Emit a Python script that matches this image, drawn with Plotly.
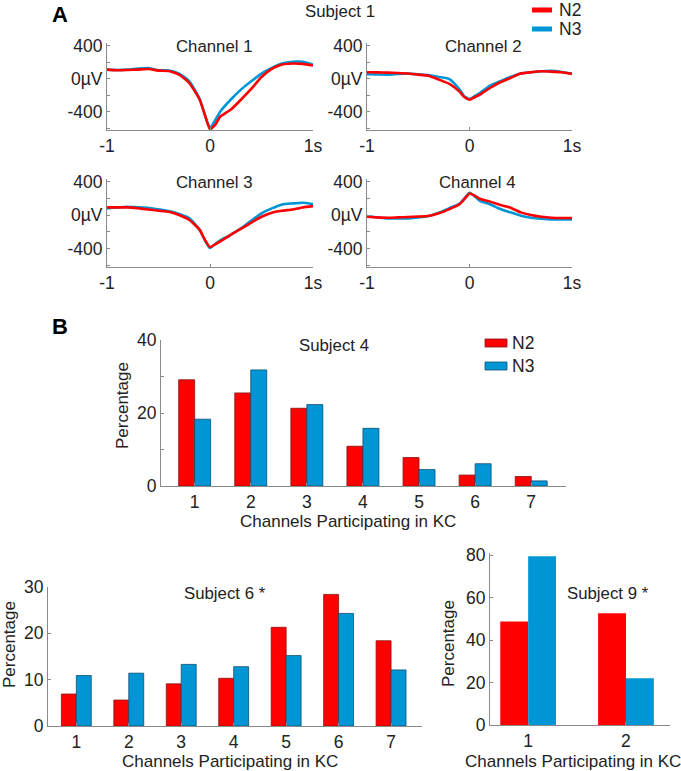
import plotly.graph_objects as go

W, H = 681, 771
RED = "#FF0000"
BLUE = "#0096D6"
TXT = "#222222"
AX = "#8a8a8a"
FONT = "Liberation Sans, Arial, sans-serif"
FS_TICK = 17.5
FS_TITLE = 16.8
FS_AXT = 17

# ---------------- data: panel A (Subject 1 average KC waveforms, µV) ----------------
time_s = [-1, -0.9, -0.8, -0.7, -0.6, -0.5, -0.4, -0.3, -0.2, -0.1, -0.05, 0,
          0.05, 0.1, 0.2, 0.3, 0.4, 0.5, 0.6, 0.7, 0.8, 0.9, 1.0]

ch1_n2 = [109, 101, 105, 109, 117, 97, 93, 48, -53, -255, -436, -610,
          -558, -457, -376, -255, -125, 20, 117, 170, 182, 178, 158]
ch1_n3 = [109, 105, 109, 121, 129, 101, 97, 61, -32, -246, -436, -598,
          -500, -396, -255, -133, -32, 61, 129, 182, 202, 202, 170]

ch2_n2 = [77, 75, 73, 68, 61, 48, 36, -12, -61, -154, -222, -255,
          -225, -194, -113, -44, 8, 61, 77, 89, 85, 77, 57]
ch2_n3 = [53, 50, 48, 55, 61, 52, 44, 20, -4, -125, -214, -246,
          -210, -174, -85, -32, 20, 61, 77, 89, 93, 81, 61]

ch3_n2 = [91, 91, 91, 80, 67, 52, 39, 0, -59, -177, -296, -382,
          -350, -315, -236, -166, -91, -20, 28, 51, 67, 91, 106]
ch3_n3 = [79, 91, 99, 93, 87, 68, 47, 12, -39, -177, -300, -394,
          -345, -303, -236, -158, -67, 20, 79, 126, 138, 146, 130]

ch4_n2 = [-20, -28, -32, -28, -24, -18, -12, 20, 68, 125, 190, 258,
          232, 195, 160, 120, 88, 32, 0, -20, -32, -36, -36]
ch4_n3 = [-12, -30, -40, -42, -40, -30, -12, 28, 80, 135, 198, 265,
          225, 170, 128, 72, 32, -8, -32, -44, -52, -52, -52]

channel_names = ["Channel 1", "Channel 2", "Channel 3", "Channel 4"]
a_xtick_vals = [-1, 0, 1]
a_xtick_text = ["-1", "0", "1s"]
a_ytick_vals = [-600, -400, -200, 0, 200, 400]
a_ytick_text = ["", "-400", "", "0µV", "", "400"]

# ---------------- data: panel B (percentage of KCs by # channels) ----------------
s4_channels = [1, 2, 3, 4, 5, 6, 7]
s4_n2 = [29.1, 25.5, 21.3, 10.9, 7.8, 3.0, 2.6]
s4_n3 = [18.3, 31.8, 22.3, 15.8, 4.5, 6.1, 1.4]

s6_channels = [1, 2, 3, 4, 5, 6, 7]
s6_n2 = [6.9, 5.6, 9.1, 10.3, 21.3, 28.4, 18.4]
s6_n3 = [10.9, 11.4, 13.3, 12.8, 15.2, 24.3, 12.1]

s9_channels = [1, 2]
s9_n2 = [48.8, 52.6]
s9_n3 = [79.5, 22.0]

legend_names = ["N2", "N3"]


def fx(x):
    return x / W


def fy(y):
    return 1 - y / H


fig = go.Figure()

# axes boxes in pixels: left, right, top, bottom
boxes = {
    "1": (107, 313, 43, 130),
    "2": (367, 572, 43, 130),
    "3": (107, 313, 179, 267),
    "4": (367, 572, 179, 267),
    "5": (161, 566, 340, 486),
    "6": (48, 422, 587, 726),
    "7": (490, 670, 553, 725),
}


def axis_common():
    return dict(showgrid=False, zeroline=False, showline=True, linecolor=AX,
                linewidth=1, ticks="inside", ticklen=3, tickcolor=AX,
                automargin=False,
                tickfont=dict(family=FONT, size=FS_TICK, color=TXT), fixedrange=True)


layout_axes = {}
for k, (l, r, t, b) in boxes.items():
    xa = "xaxis" if k == "1" else f"xaxis{k}"
    ya = "yaxis" if k == "1" else f"yaxis{k}"
    xd = axis_common()
    yd = axis_common()
    xd.update(domain=[fx(l), fx(r)], anchor="y" if k == "1" else f"y{k}")
    yd.update(domain=[fy(b), fy(t)], anchor="x" if k == "1" else f"x{k}")
    layout_axes[xa] = xd
    layout_axes[ya] = yd

for k in ["1", "2", "3", "4"]:
    xa = "xaxis" if k == "1" else f"xaxis{k}"
    ya = "yaxis" if k == "1" else f"yaxis{k}"
    layout_axes[xa].update(range=[-1, 1], tickvals=a_xtick_vals, ticktext=a_xtick_text)
    layout_axes[ya].update(range=[-620, 430], tickvals=a_ytick_vals, ticktext=a_ytick_text)

layout_axes["xaxis5"].update(range=[0.4, 7.62], tickvals=s4_channels)
layout_axes["yaxis5"].update(range=[0, 40], tickvals=[0, 10, 20, 30, 40],
                             ticktext=["0", "", "20", "", "40"])
layout_axes["xaxis6"].update(range=[0.46, 7.59], tickvals=s6_channels)
layout_axes["yaxis6"].update(range=[0, 30], tickvals=[0, 10, 20, 30])
layout_axes["xaxis7"].update(range=[0.61, 2.45], tickvals=s9_channels)
layout_axes["yaxis7"].update(range=[0, 81], tickvals=[0, 20, 40, 60, 80])

# waveform traces (N3 drawn first, N2 on top)
waves = [(ch1_n3, ch1_n2), (ch2_n3, ch2_n2), (ch3_n3, ch3_n2), (ch4_n3, ch4_n2)]
for i, (n3, n2) in enumerate(waves):
    k = "" if i == 0 else str(i + 1)
    fig.add_trace(go.Scatter(x=time_s, y=n3, mode="lines", xaxis="x" + k, yaxis="y" + k,
                             line=dict(color=BLUE, width=2.6, shape="spline", smoothing=0.5),
                             showlegend=False, hoverinfo="skip"))
    fig.add_trace(go.Scatter(x=time_s, y=n2, mode="lines", xaxis="x" + k, yaxis="y" + k,
                             line=dict(color=RED, width=2.6, shape="spline", smoothing=0.5),
                             showlegend=False, hoverinfo="skip"))

# bar traces
bar_sets = [("5", s4_channels, s4_n2, s4_n3, True),
            ("6", s6_channels, s6_n2, s6_n3, True),
            ("7", s9_channels, s9_n2, s9_n3, False)]
for k, cats, n2, n3, outline in bar_sets:
    fig.add_trace(go.Bar(x=cats, y=n2, xaxis="x" + k, yaxis="y" + k, name="N2",
                         marker=dict(color=RED, line=dict(color="#8a1010" if outline else RED,
                                                          width=0.8 if outline else 0)),
                         showlegend=False, offsetgroup="a", hoverinfo="skip"))
    fig.add_trace(go.Bar(x=cats, y=n3, xaxis="x" + k, yaxis="y" + k, name="N3",
                         marker=dict(color=BLUE, line=dict(color="#0d4f70" if outline else BLUE,
                                                           width=0.8 if outline else 0)),
                         showlegend=False, offsetgroup="b", hoverinfo="skip"))

annotations = []
shapes = []


def note(text, x, y, size=FS_TITLE, bold=False, angle=0, anchor="center"):
    annotations.append(dict(text=("<b>%s</b>" % text) if bold else text,
                            x=fx(x), y=fy(y), xref="paper", yref="paper",
                            xanchor=anchor, yanchor="middle", showarrow=False,
                            textangle=angle,
                            font=dict(family=FONT, size=size, color="#000" if bold else TXT)))


# custom legends (swatches drawn as paper shapes)
for (name, col, yy) in [(legend_names[0], RED, 10), (legend_names[1], BLUE, 29)]:
    shapes.append(dict(type="line", xref="paper", yref="paper",
                       x0=fx(532), x1=fx(552), y0=fy(yy), y1=fy(yy),
                       line=dict(color=col, width=5)))
    note(name, 557, yy, size=FS_TICK, anchor="left")

for (name, col, edge, yy) in [(legend_names[0], RED, "#8a1010", 343),
                              (legend_names[1], BLUE, "#0d4f70", 366)]:
    shapes.append(dict(type="rect", xref="paper", yref="paper",
                       x0=fx(485), x1=fx(507), y0=fy(yy + 4), y1=fy(yy - 4),
                       fillcolor=col, line=dict(color=edge, width=0.8)))
    note(name, 510, yy, size=FS_TICK, anchor="left")

note("A", 60, 14, size=22, bold=True)
note("B", 60, 326, size=22, bold=True)
note("Subject 1", 340, 12)
note(channel_names[0], 214, 46)
note(channel_names[1], 483, 46)
note(channel_names[2], 214, 182)
note(channel_names[3], 477, 182)

note("Subject 4", 334, 346)
note("Subject 6 *", 225, 593)
note("Subject 9 *", 608, 593)

note("Percentage", 122, 406, size=FS_AXT, angle=-90)
note("Percentage", 9, 645, size=FS_AXT, angle=-90)
note("Percentage", 448, 644, size=FS_AXT, angle=-90)

note("Channels Participating in KC", 348, 521, size=FS_AXT)
note("Channels Participating in KC", 230, 761, size=FS_AXT)
note("Channels Participating in KC", 573, 761, size=FS_AXT)

fig.update_layout(
    template="none",
    width=W, height=H,
    margin=dict(l=0, r=0, t=0, b=0, pad=0, autoexpand=False),
    paper_bgcolor="white", plot_bgcolor="white",
    showlegend=False,
    hovermode=False,
    barmode="group", bargap=0.43, bargroupgap=0,
    font=dict(family=FONT, size=FS_TICK, color=TXT),
    annotations=annotations,
    shapes=shapes,
    **layout_axes,
)

fig.write_html("out.html", config={"displayModeBar": False, "staticPlot": True},
               post_script="document.body.style.margin='0px';")
